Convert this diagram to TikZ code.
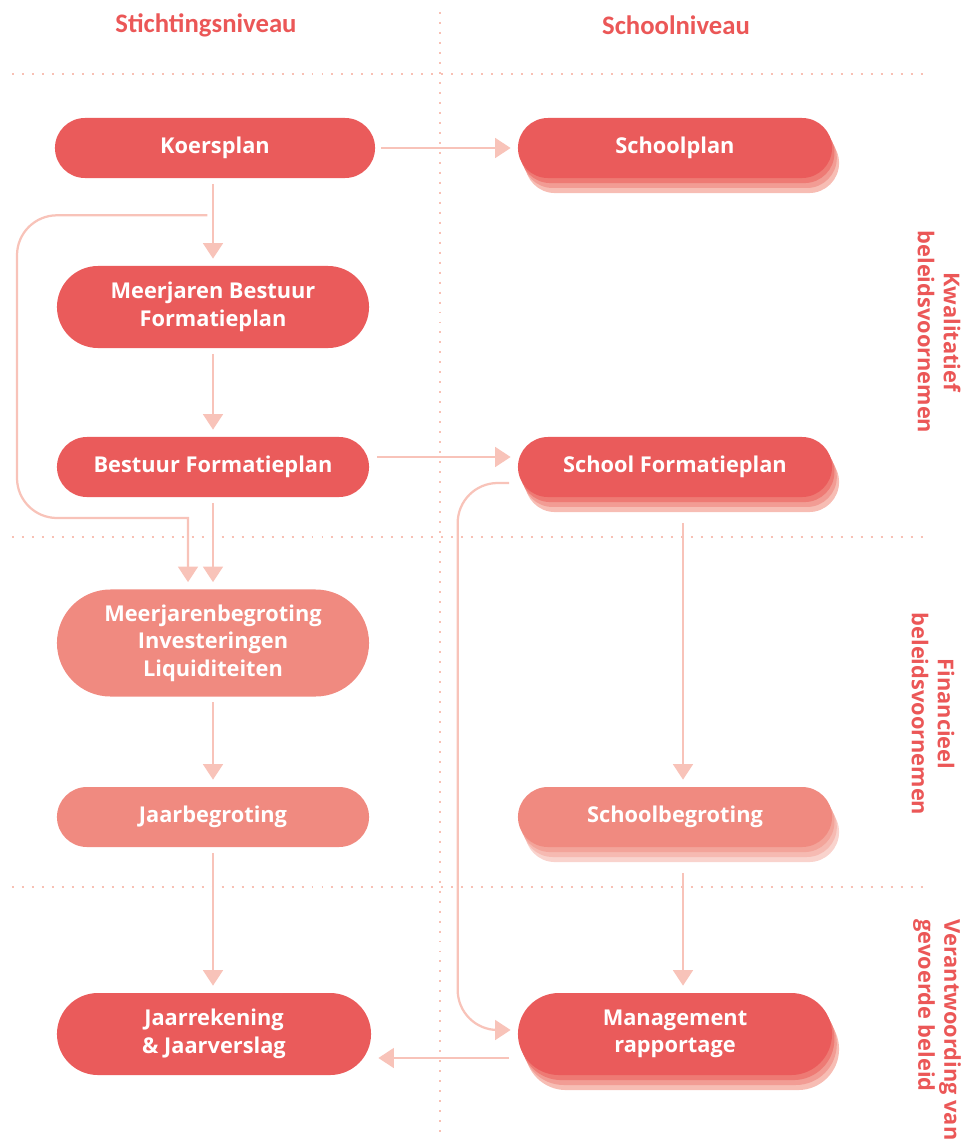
\documentclass[tikz,border=0pt]{standalone}
\usepackage{fontspec}
\setmainfont{Open Sans}
\newfontfamily\headfont{Carlito}
\usepackage{xcolor}
\usepackage{tikz}
\usetikzlibrary{shapes.misc, arrows.meta, calc, shadows}
\definecolor{plred}{HTML}{EA5B5B}
\definecolor{pllight}{HTML}{F08A80}
\definecolor{plarrow}{HTML}{F8C3B9}
\definecolor{pldots}{HTML}{F8C0B4}
\definecolor{plhead}{HTML}{EB5757}
\definecolor{shdarkA}{HTML}{EE7A74}
\definecolor{shdarkB}{HTML}{F29C94}
\definecolor{shdarkC}{HTML}{F7BDB4}
\definecolor{shlightA}{HTML}{F3A49A}
\definecolor{shlightB}{HTML}{F6BAB2}
\definecolor{shlightC}{HTML}{F9D3CD}
\tikzset{
  planbox/.style={rounded rectangle, fill=plred, minimum width=7.8cm, minimum height=1.5cm, inner sep=0pt, align=center, text=white, font=\bfseries\fontsize{15.5}{19.5}\selectfont},
  lightbox/.style={planbox, fill=pllight},
  darkstack/.style={
    general shadow={shadow xshift=5pt, shadow yshift=-10.7pt, fill=shdarkC},
    general shadow={shadow xshift=3.4pt, shadow yshift=-7.1pt, fill=shdarkB},
    general shadow={shadow xshift=1.7pt, shadow yshift=-3.6pt, fill=shdarkA}},
  lightstack/.style={
    general shadow={shadow xshift=5pt, shadow yshift=-10.7pt, fill=shlightC},
    general shadow={shadow xshift=3.4pt, shadow yshift=-7.1pt, fill=shlightB},
    general shadow={shadow xshift=1.7pt, shadow yshift=-3.6pt, fill=shlightA}},
  levelhead/.style={text=plhead, font=\headfont\bfseries\fontsize{19}{22}\selectfont},
  sidelabel/.style={text=plhead, rotate=-90, align=center, font=\bfseries\fontsize{15.5}{18.5}\selectfont},
  gridline/.style={draw=pldots, line width=1.6pt, dash pattern=on 1.4pt off 5.7pt},
  flow/.style={-{Triangle[width=14pt, length=11pt]}, draw=plarrow, line width=1.6pt, shorten <=4pt, shorten >=5pt}
}

\begin{document}
\begin{tikzpicture}[x=0.025cm, y=-0.025cm]
  \useasboundingbox (0,0) rectangle (964,1142);

  \draw[gridline] (440,12) -- (440,1140);
  \draw[gridline] (12,74) -- (930,74);
  \draw[gridline] (12,537) -- (930,537);
  \draw[gridline] (12,887) -- (930,887);

  \node[levelhead] at (206,25) (hstichting) {Stichtingsniveau};
  \node[levelhead] at (676,25) (hschool) {Schoolniveau};

  \node[sidelabel] at (939,332) (skwal) {Kwalitatief\\beleidsvoornemen};
  \node[sidelabel] at (933,714) (sfin) {Financieel\\beleidsvoornemen};
  \node[sidelabel, align=left] at (937,1030) (sverant) {Verantwoording van\\gevoerde beleid};

  % stichtingsniveau
  \node[planbox, minimum width=8cm] at (215,148) (kp) {Koersplan};
  \node[planbox, minimum height=2.05cm] at (213,307) (mbf) {Meerjaren Bestuur\\Formatieplan};
  \node[planbox] at (213,467) (bfp) {Bestuur Formatieplan};
  \node[lightbox, minimum height=2.675cm] at (213,643) (mjb)
    {Meerjarenbegroting\\Investeringen\\Liquiditeiten};
  \node[lightbox] at (213,817) (jb) {Jaarbegroting};
  \node[planbox, minimum width=7.85cm, minimum height=2.05cm] at (214,1034) (jr)
    {Jaarrekening\\\&~Jaarverslag};

  % schoolniveau
  \node[planbox, darkstack, minimum width=7.85cm] at (675,148) (sp) {Schoolplan};
  \node[planbox, darkstack, minimum width=7.85cm] at (675,467) (sfp) {School Formatieplan};
  \node[lightbox, lightstack, minimum width=7.85cm] at (675,817) (sb) {Schoolbegroting};
  \node[planbox, darkstack, minimum width=7.85cm, minimum height=2.05cm] at (675,1034) (mr)
    {Management\\rapportage};

  \coordinate (split) at ($(kp.south -| mbf.north)+(0,37)$);
  \coordinate (loopleft) at (17,518);
  \coordinate (mjbin) at ($(mjb.north)+(-25,0)$);
  \coordinate (bfpout) at ($(bfp.east)+(2,-10)$);
  \coordinate (sfpout) at ($(sfp.west)+(-3,16)$);
  \coordinate (mrbend) at ($(mr.west)+(-60,-4)$);
  \coordinate (mrout) at ($(mr.west)+(-3,24)$);

  \draw[flow] (kp.east) -- (sp.west);
  \draw[flow] (kp.south -| mbf.north) -- (mbf.north);
  \draw[flow, rounded corners=1cm] (split) -| (loopleft)
    [sharp corners] -- (loopleft -| mjbin) -- (mjbin);
  \draw[flow] (mbf.south) -- (bfp.north);
  \draw[flow] (bfpout) -- (bfpout -| sfp.west);
  \draw[flow] (bfp.south) -- (mjb.north);
  \draw[flow] (mjb.south) -- (jb.north);
  \draw[flow] (jb.south) -- (jr.north -| jb.south);
  \draw[flow] ($(sfp.south)+(8,20)$) -- ($(sb.north)+(8,0)$);
  \draw[flow] ($(sb.south)+(8,20)$) -- ($(mr.north)+(8,0)$);
  \draw[flow, rounded corners=1cm] (sfpout) -| (mrbend) -- (mrbend -| mr.west);
  \draw[flow] (mrout) -- (mrout -| jr.east);
\end{tikzpicture}
\end{document}
